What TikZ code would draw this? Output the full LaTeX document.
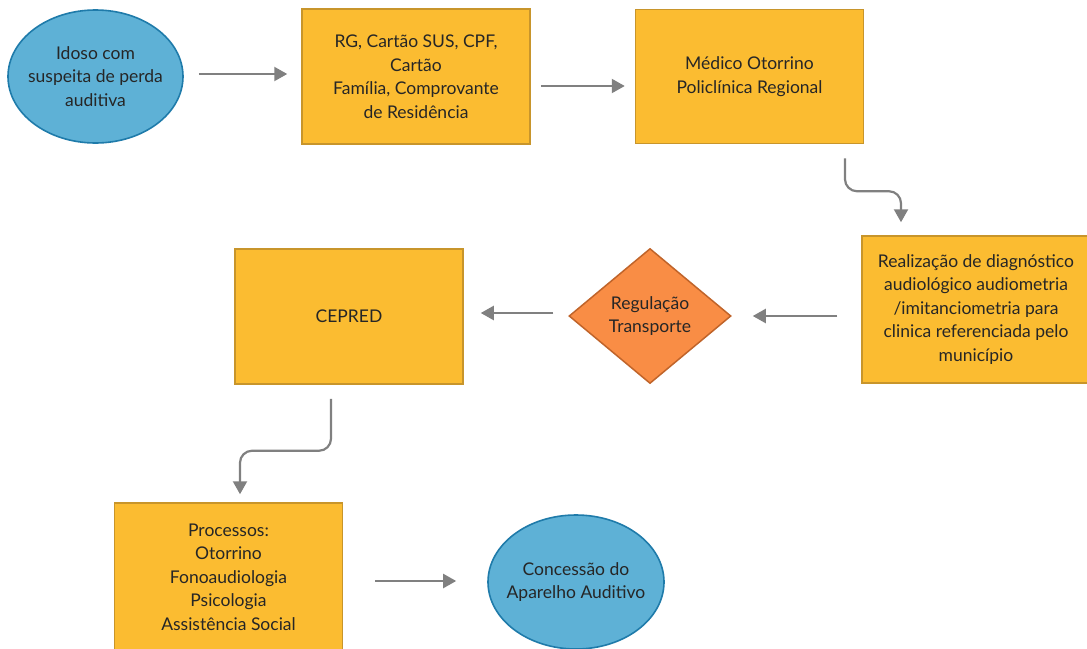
\documentclass[tikz,border=0pt]{standalone}
\usepackage{fontspec}
\setsansfont{Lato}
\usetikzlibrary{positioning, arrows.meta, shapes.geometric}
\definecolor{clrterminal}{HTML}{5EB1D6}
\definecolor{clrterminal_border}{HTML}{1F7BAA}
\definecolor{clrstep}{HTML}{FBBC31}
\definecolor{clrstep_border}{HTML}{C8952B}
\definecolor{clrdecision}{HTML}{F98D45}
\definecolor{clrdecision_border}{HTML}{C0642A}
\definecolor{clrarrow}{HTML}{808080}
\definecolor{clrtext}{HTML}{262626}

\begin{document}
\begin{tikzpicture}[
    x=1pt, y=-1pt,
    >={Triangle[length=13pt,width=14pt]},
    every node/.style={font=\sffamily\fontsize{17.5}{23.5}\selectfont, text=clrtext, align=center},
    terminal/.style={ellipse, draw=clrterminal_border, fill=clrterminal, line width=1.6pt,
                     inner xsep=-14pt, inner ysep=0pt},
    block/.style={draw=clrstep_border, fill=clrstep, line width=1.5pt, minimum width=228pt, inner sep=0},
    decision/.style={diamond, draw=clrdecision_border, fill=clrdecision, line width=1.5pt, inner sep=0,
                     minimum width=162pt, minimum height=135pt},
    arrow/.style={->, color=clrarrow, line width=2.2pt},
    elbow/.style={arrow, rounded corners=12pt},
]
\useasboundingbox (0,0) rectangle (1087,648);
\clip (0,0) rectangle (1087,648);
% first row
\node[terminal, minimum width=175pt, minimum height=133pt] (n_1) at (95.5,76.5) {Idoso com\\suspeita de perda\\auditiva};
\node[block, minimum height=135pt] (n_2) at (416,76.5) {RG, Cartão SUS, CPF,\\Cartão\\Família, Comprovante\\de Residência};
\node[block, minimum height=134pt] (n_3) at (749.5,76.5) {Médico Otorrino\\Policlínica Regional};
% second row
\node[block, minimum height=147pt] (n_4) at (976,309.5) {Realização de diagnóstico\\audiológico audiometria\\/imitanciometria para\\clinica referenciada pelo\\município};
\node[decision] (n_5) at (650,316) {Regulação\\Transporte};
\node[block, minimum height=135pt] (n_6) at (349,316.5) {CEPRED};
% third row
\node[block, minimum height=148pt] (n_7) at (228.5,577) {Processos:\\Otorrino\\Fonoaudiologia\\Psicologia\\Assistência Social};
\node[terminal, minimum width=176pt, minimum height=134pt] (n_8) at (576,582) {Concessão do\\Aparelho Auditivo};
% connectors
\draw[arrow] ([xshift=15pt,yshift=2.5pt]n_1.east) -- ([xshift=-14pt,yshift=2.5pt]n_2.west);
\draw[arrow] ([xshift=10pt,yshift=-9.5pt]n_2.east) -- ([xshift=-10pt,yshift=-9.5pt]n_3.west);
\draw[elbow] ([xshift=95.5pt,yshift=-14pt]n_3.south) -- ++(0,33) -| ([xshift=-75pt,yshift=13pt]n_4.north);
\draw[arrow] ([xshift=-24pt,yshift=-6.5pt]n_4.west) -- ([xshift=21pt]n_5.east);
\draw[arrow] ([xshift=-15pt,yshift=3pt]n_5.west) -- ([xshift=17pt,yshift=3.5pt]n_6.east);
\draw[elbow] ([xshift=-18pt,yshift=-14pt]n_6.south) -- ++(0,52) -| ([xshift=11.5pt,yshift=8pt]n_7.north);
\draw[arrow] ([xshift=32pt,yshift=-4pt]n_7.east) -- ([xshift=-31pt,yshift=1pt]n_8.west);
\end{tikzpicture}
\end{document}
